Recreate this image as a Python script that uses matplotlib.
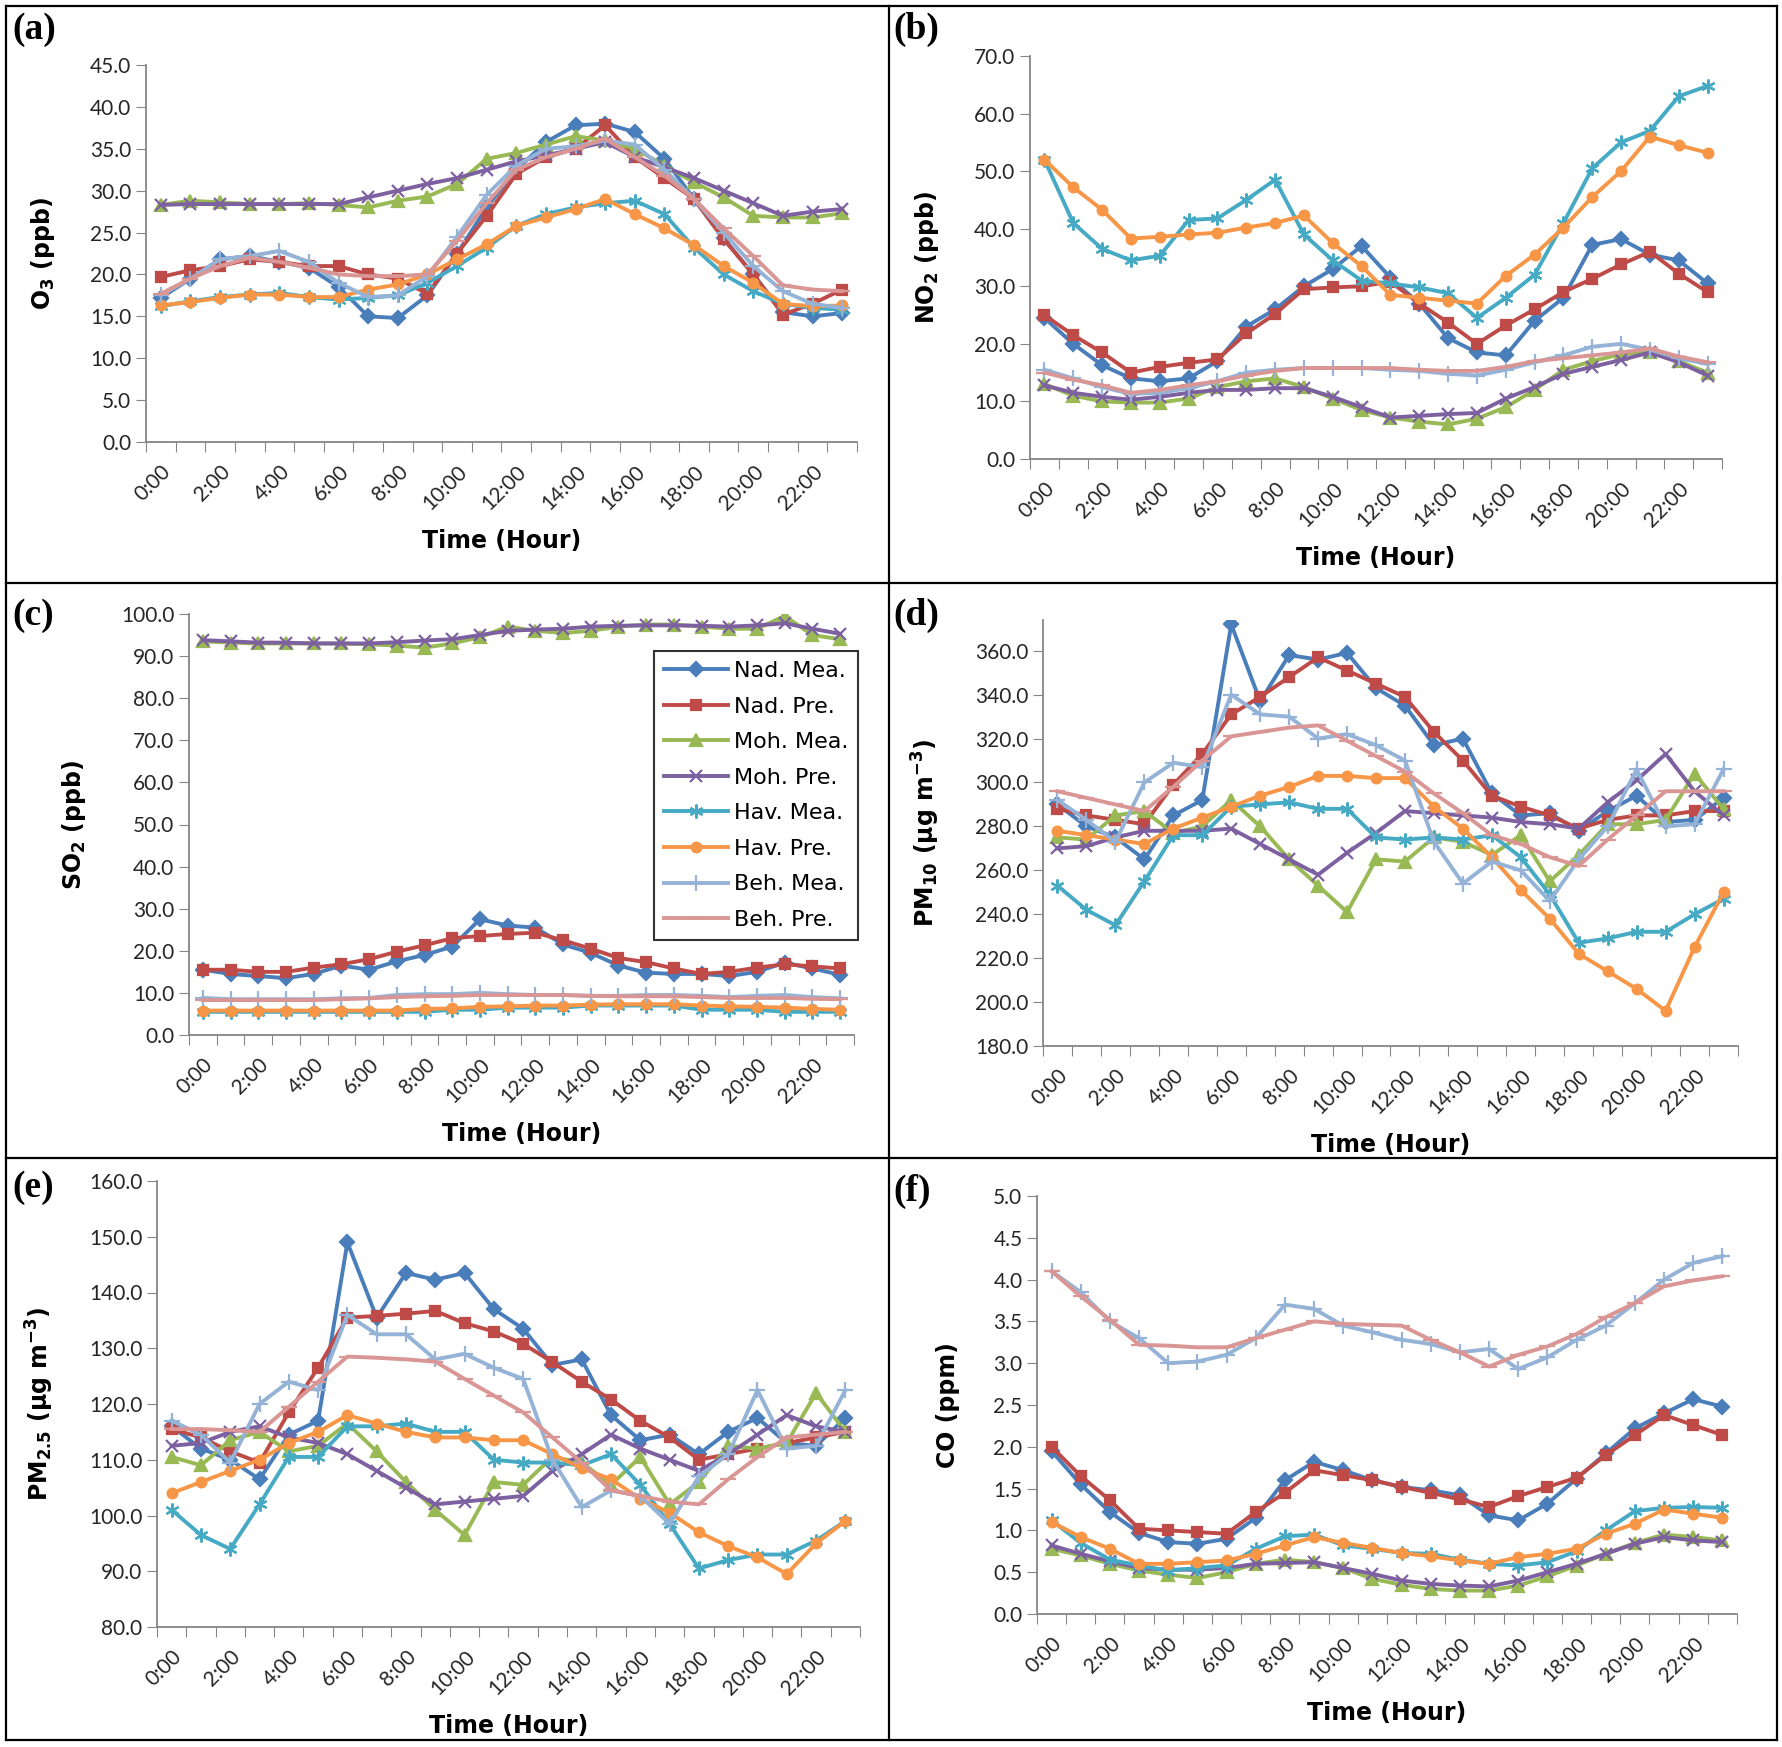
"""Diurnal pollutant profiles, measured vs predicted, at four stations (panels a-f)."""
import numpy as np
import matplotlib

matplotlib.use("Agg")
import matplotlib.pyplot as plt
from matplotlib.lines import Line2D

plt.rcParams["font.family"] = ["Lato", "DejaVu Sans"]
plt.rcParams["mathtext.fontset"] = "dejavusans"
plt.rcParams["mathtext.default"] = "bf"

hours = [f"{h}:00" for h in range(24)]
series_names = ["Nad. Mea.", "Nad. Pre.", "Moh. Mea.", "Moh. Pre.",
                "Hav. Mea.", "Hav. Pre.", "Beh. Mea.", "Beh. Pre."]

# one row per series, same order as series_names
o3 = [
    [17.2, 19.5, 21.8, 22.2, 21.5, 20.8, 18.5, 15.0, 14.8, 17.5, 22.5, 28.0, 32.5, 35.8, 37.8, 38.0, 37.0, 33.8, 29.0, 24.3, 20.0, 15.5, 15.0, 15.4],
    [19.7, 20.5, 21.0, 21.8, 21.5, 21.0, 21.0, 20.0, 19.5, 17.7, 22.5, 27.0, 32.0, 34.0, 35.0, 37.8, 34.0, 31.5, 29.0, 24.2, 20.0, 15.2, 16.5, 18.2],
    [28.3, 28.8, 28.6, 28.4, 28.4, 28.5, 28.3, 28.0, 28.8, 29.3, 30.8, 33.8, 34.5, 35.5, 36.5, 36.0, 35.0, 33.0, 31.0, 29.2, 27.0, 26.8, 26.8, 27.3],
    [28.3, 28.4, 28.4, 28.4, 28.4, 28.4, 28.4, 29.2, 30.0, 30.8, 31.5, 32.5, 33.5, 34.2, 35.0, 35.8, 34.0, 32.8, 31.5, 30.0, 28.5, 27.0, 27.5, 27.8],
    [16.2, 16.8, 17.3, 17.6, 17.8, 17.3, 17.0, 17.2, 17.5, 19.0, 21.0, 23.2, 25.8, 27.2, 28.0, 28.5, 28.8, 27.2, 23.2, 20.0, 18.0, 16.5, 16.0, 15.8],
    [16.3, 16.7, 17.2, 17.6, 17.6, 17.3, 17.3, 18.2, 18.8, 20.0, 21.8, 23.6, 25.8, 26.8, 27.8, 29.0, 27.2, 25.5, 23.5, 21.0, 19.0, 16.5, 16.2, 16.3],
    [17.5, 19.5, 21.8, 22.2, 22.8, 21.5, 19.0, 17.3, 17.5, 19.8, 24.5, 29.5, 33.0, 35.0, 35.3, 36.0, 35.5, 32.5, 29.0, 25.0, 21.0, 18.0, 16.5, 16.0],
    [17.7, 19.5, 21.0, 22.0, 21.5, 20.8, 20.0, 19.8, 19.8, 20.0, 24.0, 28.5, 32.5, 34.0, 35.0, 36.2, 34.0, 31.8, 29.0, 25.5, 22.2, 18.7, 18.2, 18.0],
]
no2 = [
    [24.5, 20.0, 16.3, 14.0, 13.5, 14.0, 17.0, 23.0, 26.0, 30.0, 33.0, 37.0, 31.5, 27.0, 21.0, 18.5, 18.0, 24.0, 28.0, 37.2, 38.2, 35.5, 34.5, 30.5],
    [25.0, 21.5, 18.5, 15.0, 16.0, 16.7, 17.3, 21.8, 25.2, 29.5, 29.8, 30.0, 30.8, 27.0, 23.7, 20.0, 23.2, 26.0, 29.0, 31.3, 33.8, 36.0, 32.2, 29.0],
    [13.0, 11.0, 10.0, 9.8, 9.8, 10.5, 12.5, 13.5, 14.0, 12.5, 10.5, 8.5, 7.2, 6.5, 6.0, 7.0, 9.0, 12.0, 15.5, 17.0, 18.2, 18.5, 17.0, 15.0],
    [12.8, 11.5, 10.8, 10.3, 10.8, 11.5, 12.0, 12.0, 12.3, 12.3, 10.8, 9.0, 7.2, 7.5, 7.8, 8.0, 10.5, 12.5, 14.8, 16.0, 17.2, 18.5, 16.8, 14.5],
    [52.0, 41.0, 36.5, 34.5, 35.3, 41.5, 41.8, 45.0, 48.5, 39.0, 34.5, 31.0, 30.5, 29.8, 28.8, 24.5, 28.0, 32.0, 41.0, 50.5, 55.0, 57.0, 63.0, 64.8],
    [52.0, 47.2, 43.3, 38.3, 38.6, 39.0, 39.3, 40.2, 41.0, 42.3, 37.5, 33.5, 28.5, 28.0, 27.5, 27.0, 31.8, 35.5, 40.2, 45.5, 50.0, 56.0, 54.5, 53.2],
    [15.5, 14.0, 12.5, 11.3, 11.5, 12.3, 13.5, 15.0, 15.5, 15.8, 15.8, 15.8, 15.5, 15.3, 14.8, 14.5, 15.5, 16.8, 18.0, 19.5, 20.0, 19.0, 17.5, 16.5],
    [15.0, 13.8, 12.8, 11.5, 12.0, 12.8, 13.5, 14.5, 15.3, 15.8, 15.8, 15.8, 15.8, 15.5, 15.3, 15.3, 16.0, 17.0, 17.5, 18.0, 18.5, 19.2, 17.8, 16.8],
]
so2 = [
    [15.5, 14.5, 14.0, 13.5, 14.5, 16.5, 15.5, 17.5, 19.0, 21.0, 27.5, 26.0, 25.5, 21.5, 19.5, 16.5, 14.8, 14.5, 14.5, 14.0, 15.0, 17.2, 15.8, 14.3],
    [15.5, 15.5, 15.0, 15.0, 16.0, 16.8, 18.0, 19.8, 21.3, 23.0, 23.5, 24.0, 24.3, 22.5, 20.5, 18.3, 17.3, 15.8, 14.5, 15.0, 16.0, 16.8, 16.3, 15.8],
    [93.5, 93.2, 93.0, 93.0, 93.0, 93.0, 92.8, 92.5, 92.0, 93.0, 94.5, 97.0, 96.0, 95.5, 96.0, 97.0, 97.5, 97.5, 97.0, 96.5, 96.5, 99.5, 95.0, 94.0],
    [93.8, 93.5, 93.2, 93.2, 93.0, 93.0, 93.0, 93.3, 93.7, 94.0, 95.0, 96.0, 96.3, 96.5, 97.0, 97.2, 97.3, 97.3, 97.2, 97.0, 97.3, 97.8, 96.5, 95.3],
    [5.5, 5.5, 5.5, 5.5, 5.5, 5.5, 5.5, 5.5, 5.5, 6.0, 6.0, 6.5, 6.5, 6.5, 7.0, 7.0, 7.0, 7.0, 6.0, 6.0, 6.0, 5.5, 5.5, 5.5],
    [5.8, 5.8, 5.8, 5.8, 5.8, 5.8, 5.8, 5.8, 6.2, 6.3, 6.7, 6.8, 7.0, 7.0, 7.2, 7.3, 7.3, 7.3, 7.0, 6.8, 6.7, 6.5, 6.2, 6.0],
    [8.8, 8.5, 8.5, 8.5, 8.5, 8.7, 8.8, 9.5, 9.7, 9.7, 10.0, 9.7, 9.5, 9.5, 9.3, 9.3, 9.5, 9.5, 9.3, 9.0, 9.3, 9.5, 9.0, 8.7],
    [8.3, 8.3, 8.3, 8.3, 8.3, 8.5, 8.7, 9.0, 9.2, 9.3, 9.5, 9.5, 9.5, 9.5, 9.3, 9.2, 9.2, 9.2, 9.0, 8.8, 8.8, 8.8, 8.6, 8.5],
]
pm10 = [
    [290, 280, 275, 265, 285, 292, 372, 337, 358, 356, 359, 343, 335, 317, 320, 295, 285, 286, 278, 287, 294, 282, 283, 293],
    [288, 285, 283, 281, 299, 313, 331, 339, 348, 357, 351, 345, 339, 323, 310, 294, 289, 285, 279, 283, 285, 285, 287, 287],
    [275, 274, 285, 287, 277, 280, 292, 280, 265, 253, 241, 265, 264, 275, 273, 267, 276, 255, 267, 281, 281, 283, 304, 288],
    [270, 271, 275, 278, 278, 278, 279, 272, 265, 258, 268, 277, 287, 286, 285, 284, 282, 281, 279, 291, 301, 313, 296, 285],
    [253, 242, 235, 255, 276, 276, 289, 290, 291, 288, 288, 275, 274, 275, 274, 276, 266, 249, 227, 229, 232, 232, 240, 247],
    [278, 276, 274, 272, 279, 284, 289, 294, 298, 303, 303, 302, 302, 289, 279, 266, 251, 238, 222, 214, 206, 196, 225, 250],
    [292, 283, 273, 300, 309, 307, 340, 331, 330, 320, 322, 317, 310, 273, 254, 264, 260, 246, 265, 280, 306, 280, 281, 306],
    [296, 293, 290, 287, 298, 310, 321, 323, 325, 326, 319, 312, 305, 295, 286, 276, 272, 266, 262, 274, 285, 296, 296, 296],
]
pm25 = [
    [116.0, 112.0, 110.0, 106.5, 114.5, 117.0, 149.0, 135.5, 143.5, 142.3, 143.5, 137.0, 133.5, 127.0, 128.0, 118.0, 113.5, 114.5, 111.0, 115.0, 117.5, 113.0, 112.5, 117.5],
    [115.5, 114.0, 111.5, 109.5, 118.5, 126.5, 135.5, 135.8, 136.2, 136.7, 134.5, 133.0, 130.8, 127.5, 124.0, 120.8, 117.0, 114.0, 110.0, 111.0, 112.0, 113.0, 114.0, 115.0],
    [110.5, 109.0, 113.5, 115.0, 111.5, 112.5, 116.5, 111.5, 106.0, 101.0, 96.5, 106.0, 105.5, 110.5, 109.5, 105.5, 110.5, 102.0, 106.0, 112.5, 112.0, 113.0, 122.0, 115.0],
    [112.5, 113.0, 115.0, 116.0, 114.0, 113.0, 111.0, 108.0, 105.0, 102.0, 102.5, 103.0, 103.5, 108.0, 111.0, 114.5, 112.0, 110.0, 108.0, 111.0, 114.5, 118.0, 116.0, 115.0],
    [101.0, 96.5, 94.0, 102.0, 110.5, 110.5, 116.0, 116.0, 116.5, 115.0, 115.0, 110.0, 109.5, 109.5, 109.0, 111.0, 105.5, 98.5, 90.5, 92.0, 93.0, 93.0, 95.5, 99.0],
    [104.0, 106.0, 108.0, 110.0, 113.0, 115.0, 118.0, 116.5, 115.0, 114.0, 114.0, 113.5, 113.5, 111.0, 108.5, 106.5, 103.0, 100.5, 97.0, 94.5, 92.5, 89.5, 95.0, 99.0],
    [117.0, 114.5, 109.5, 120.0, 124.0, 122.5, 136.0, 132.5, 132.5, 128.0, 129.0, 126.5, 124.5, 110.0, 101.5, 104.5, 103.5, 98.5, 107.0, 111.0, 122.5, 112.0, 112.5, 122.5],
    [115.5, 115.5, 115.3, 115.0, 119.5, 124.0, 128.5, 128.3, 128.0, 127.6, 124.5, 121.5, 118.5, 114.0, 109.5, 104.5, 103.5, 102.5, 102.0, 106.5, 110.5, 114.0, 114.5, 115.0],
]
co = [
    [1.95, 1.55, 1.22, 0.97, 0.86, 0.84, 0.90, 1.15, 1.60, 1.82, 1.72, 1.60, 1.52, 1.48, 1.42, 1.18, 1.12, 1.32, 1.62, 1.92, 2.22, 2.40, 2.57, 2.48],
    [2.00, 1.65, 1.36, 1.02, 1.00, 0.98, 0.96, 1.22, 1.45, 1.72, 1.66, 1.60, 1.52, 1.45, 1.37, 1.28, 1.41, 1.52, 1.63, 1.90, 2.14, 2.38, 2.26, 2.14],
    [0.78, 0.70, 0.60, 0.52, 0.47, 0.43, 0.50, 0.60, 0.65, 0.62, 0.55, 0.42, 0.35, 0.30, 0.28, 0.28, 0.34, 0.45, 0.58, 0.72, 0.85, 0.95, 0.92, 0.88],
    [0.82, 0.72, 0.63, 0.55, 0.53, 0.53, 0.55, 0.60, 0.61, 0.62, 0.55, 0.48, 0.40, 0.36, 0.34, 0.33, 0.40, 0.50, 0.60, 0.72, 0.84, 0.92, 0.88, 0.86],
    [1.12, 0.85, 0.65, 0.58, 0.52, 0.55, 0.58, 0.78, 0.93, 0.95, 0.82, 0.78, 0.73, 0.72, 0.65, 0.60, 0.58, 0.62, 0.75, 1.00, 1.23, 1.27, 1.28, 1.27],
    [1.10, 0.92, 0.78, 0.60, 0.60, 0.62, 0.64, 0.72, 0.82, 0.92, 0.85, 0.79, 0.73, 0.69, 0.64, 0.60, 0.68, 0.72, 0.78, 0.96, 1.08, 1.25, 1.20, 1.15],
    [4.10, 3.85, 3.50, 3.30, 3.00, 3.02, 3.10, 3.30, 3.70, 3.65, 3.45, 3.37, 3.28, 3.23, 3.13, 3.17, 2.93, 3.07, 3.28, 3.45, 3.72, 4.00, 4.20, 4.28],
    [4.10, 3.80, 3.52, 3.22, 3.21, 3.19, 3.19, 3.30, 3.40, 3.50, 3.47, 3.46, 3.45, 3.28, 3.13, 2.96, 3.10, 3.20, 3.35, 3.55, 3.72, 3.92, 3.99, 4.04],
]

colors = ["#4A7EBB", "#BE4B48", "#98B954", "#7D60A0", "#46AAC5", "#F79646", "#95B3D7", "#D99694"]
markers = ["D", "s", "^", "x", (6, 2, 0), "o", "+", "_"]
msizes = [7, 7, 8, 9, 10, 7, 11, 11]

W, H = 1783, 1747
fig = plt.figure(figsize=(W / 100, H / 100), dpi=100)


def px_axes(left, top, right, bottom):
    return fig.add_axes([left / W, 1 - bottom / H, (right - left) / W, (bottom - top) / H])


panels = [
    ("(a)", (12, 12), (146, 65, 857, 442), o3, r"O$_{3}$ (ppb)", (0, 45), np.arange(0, 45.1, 5)),
    ("(b)", (893, 12), (1030, 56, 1722, 459), no2, r"NO$_{2}$ (ppb)", (0, 70), np.arange(0, 70.1, 10)),
    ("(c)", (12, 598), (189, 614, 854, 1035), so2, r"SO$_{2}$ (ppb)", (0, 100), np.arange(0, 100.1, 10)),
    ("(d)", (893, 598), (1043, 620, 1738, 1046), pm10, r"PM$_{10}$ (μg m$^{-3}$)", (180, 374), np.arange(180, 361, 20)),
    ("(e)", (12, 1170), (157, 1181, 860, 1627), pm25, r"PM$_{2.5}$ (μg m$^{-3}$)", (80, 160), np.arange(80, 160.1, 10)),
    ("(f)", (893, 1174), (1037, 1196, 1737, 1614), co, r"CO (ppm)", (0, 5), np.arange(0, 5.01, 0.5)),
]

x = np.arange(len(hours))
for tag, tag_pos, box, data, ylab, ylim, yticks in panels:
    ax = px_axes(*box)
    for vals, name, c, m, ms in zip(data, series_names, colors, markers, msizes):
        ax.plot(x, vals, color=c, lw=2.8, marker=m, ms=ms, mew=1.6,
                mfc=c, mec=c, label=name)
    ax.set_xlim(-0.5, 23.5)
    ax.set_ylim(*ylim)
    ax.set_yticks(yticks)
    ax.set_yticklabels([f"{v:.1f}" for v in yticks])
    ax.set_xticks(np.arange(-0.5, 24, 1))
    ax.set_xticklabels([])
    ax.set_xticks(x[::2], minor=True)
    ax.set_xticklabels(hours[::2], minor=True, rotation=45, ha="right",
                       rotation_mode="anchor")
    ax.tick_params(axis="x", which="major", direction="out", length=7, color="#868686")
    ax.tick_params(axis="x", which="minor", length=0, pad=14, labelsize=15, labelcolor="#262626")
    ax.tick_params(axis="y", direction="out", length=7, color="#868686", labelsize=15,
                   labelcolor="#262626")
    for s in ("top", "right"):
        ax.spines[s].set_visible(False)
    for s in ("left", "bottom"):
        ax.spines[s].set_color("#868686")
        ax.spines[s].set_linewidth(1.3)
    ax.set_xlabel("Time (Hour)", family="DejaVu Sans", fontsize=17, fontweight="bold", labelpad=11)
    ax.set_ylabel(ylab, family="DejaVu Sans", fontsize=17, fontweight="bold", labelpad=24)
    fig.text(tag_pos[0] / W, 1 - tag_pos[1] / H, tag, family="Liberation Serif",
             fontweight="bold", fontsize=27, va="top", ha="left")
    if tag == "(c)":
        leg = ax.legend(loc="upper left", bbox_to_anchor=(654 / W, 1 - 651 / H),
                        bbox_transform=fig.transFigure, frameon=True,
                        prop={"family": "DejaVu Sans", "size": 16},
                        fancybox=False, edgecolor="black", handlelength=2.9,
                        labelspacing=0.7, borderpad=0.45, handletextpad=0.25,
                        borderaxespad=0)
        leg.get_frame().set_linewidth(1.5)

# panel frame lines
frame_x = [6, 889, 1777]
frame_y = [6, 583, 1158, 1740]
for fx in frame_x:
    fig.add_artist(Line2D([fx / W, fx / W], [1 - 6 / H, 1 - 1740 / H],
                          transform=fig.transFigure, color="black", lw=1.6))
for fy in frame_y:
    fig.add_artist(Line2D([6 / W, 1777 / W], [1 - fy / H, 1 - fy / H],
                          transform=fig.transFigure, color="black", lw=1.6))

fig.savefig("out.png", dpi=100)
plt.close(fig)
